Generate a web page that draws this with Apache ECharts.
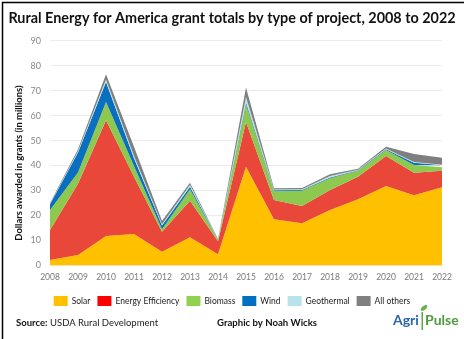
<!DOCTYPE html>
<html>
<head>
<meta charset="utf-8">
<script src="https://cdn.jsdelivr.net/npm/echarts@6/dist/echarts.min.js"></script>
<style>
html,body{margin:0;padding:0;background:#fff;}
#c{width:464px;height:339px;}
</style>
</head>
<body>
<div id="c"></div>
<script>
const years = ['2008','2009','2010','2011','2012','2013','2014','2015','2016','2017','2018','2019','2020','2021','2022'];
const solar      = [2.2, 4.2, 11.8, 12.6, 5.5, 11.3, 4.5, 39.5, 18.5, 16.9, 22.2, 26.5, 31.8, 28.1, 31.3];
const efficiency = [12.0, 28.5, 46.4, 22.9, 8.0, 14.6, 5.2, 18.0, 7.7, 6.9, 8.0, 9.0, 12.0, 9.0, 6.6];
const biomass    = [8.0, 4.5, 7.3, 4.3, 1.0, 4.6, 0.5, 7.1, 3.5, 6.1, 4.7, 2.4, 2.4, 3.1, 1.4];
const wind       = [2.3, 8.0, 8.0, 3.1, 1.5, 1.0, 0.1, 0.8, 0.4, 0.3, 0.3, 0.2, 0.3, 0.9, 0.8];
const geothermal = [0.2, 0.5, 1.0, 0.9, 0.5, 0.8, 0.1, 2.1, 0.3, 0.3, 0.6, 0.2, 0.3, 0.3, 0.2];
const others     = [0.3, 0.8, 2.1, 3.7, 1.3, 0.8, 0.2, 3.8, 0.5, 0.5, 0.7, 0.4, 0.7, 3.2, 2.8];
const seriesNames = ['Solar','Energy Efficiency','Biomass','Wind','Geothermal','All others'];
const seriesColors = ['#FFC000','#E8473A','#8DC94E','#0A6FBE','#B8E3EA','#7F7F7F'];
const legendColors = ['#FFC000','#FF0000','#92D050','#0070C0','#B8E3EA','#808080'];
const yTicks = [0,10,20,30,40,50,60,70,80,90];

const dataSets = [solar, efficiency, biomass, wind, geothermal, others];
const chart = echarts.init(document.getElementById('c'), null, {renderer:'canvas'});
const FONT = 'Lato, "Noto Sans", sans-serif';
chart.setOption({
  animation:false,
  backgroundColor:'#fff',
  title:{
    text:'Rural Energy for America grant totals by type of project, 2008 to 2022',
    left:'center', top:6,
    textStyle:{fontFamily:FONT, fontSize:14.4, fontWeight:'bold', color:'#111'}
  },
  legend:{
    top:291, left:'center',
    itemWidth:14, itemHeight:10, itemGap:7,
    icon:'rect',
    textStyle:{fontFamily:FONT, fontSize:8.5, color:'#222', padding:[0,0,0,-1]},
    data: seriesNames.map((n,i)=>({name:n, itemStyle:{color:legendColors[i]}}))
  },
  grid:{left:50, right:22, top:40.7, bottom:73.5},
  xAxis:{
    type:'category', boundaryGap:false, data:years,
    axisLine:{show:false}, axisTick:{show:false},
    axisLabel:{fontFamily:FONT, fontSize:8.5, color:'#7a7a7a', margin:7, interval:0}
  },
  yAxis:{
    type:'value', min:yTicks[0], max:yTicks[yTicks.length-1], interval:10,
    name:'Dollars awarded in grants (in millions)',
    nameLocation:'middle', nameGap:27, nameMoveOverlap:false,
    nameTextStyle:{fontFamily:FONT, fontSize:9.4, fontWeight:'bold', color:'#111', padding:[0,20,0,0]},
    axisLine:{show:false}, axisTick:{show:false},
    axisLabel:{fontFamily:FONT, fontSize:9, color:'#8a8a8a', margin:9},
    splitLine:{lineStyle:{color:'#ececec', width:1}}
  },
  series: seriesNames.map((n,i)=>({
    name:n, type:'line', stack:'total', data:dataSets[i],
    symbol:'none', smooth:false,
    lineStyle:{width:0, color:seriesColors[i]},
    itemStyle:{color:seriesColors[i]},
    areaStyle:{color:seriesColors[i], opacity:1}
  })),
  graphic:[
    {type:'rect', left:0, top:0, shape:{width:463, height:338}, style:{fill:'none', stroke:'#000', lineWidth:1.5}, silent:true},
    {type:'text', left:16, top:318, style:{text:'Source:', font:'bold 9.5px '+FONT, fill:'#111'}},
    {type:'text', left:50, top:318, style:{text:'USDA Rural Development', font:'9.5px '+FONT, fill:'#222'}},
    {type:'text', left:217, top:318, style:{text:'Graphic by Noah Wicks', font:'bold 9.6px '+FONT, fill:'#111'}},
    {type:'text', left:393, top:313, style:{text:'Agri', font:'bold 14px '+FONT, fill:'#2B66A8'}},
    {type:'rect', left:421.5, top:312, shape:{width:1.5, height:18}, style:{fill:'#5AA843'}},
    {type:'ellipse', shape:{cx:424, cy:308, rx:4, ry:2}, rotation:0.7, originX:424, originY:308, style:{fill:'#6BB04F'}},
    {type:'text', left:425, top:313, style:{text:'Pulse', font:'bold 14px '+FONT, fill:'#4E9B3D'}}
  ]
});
</script>
</body>
</html>
